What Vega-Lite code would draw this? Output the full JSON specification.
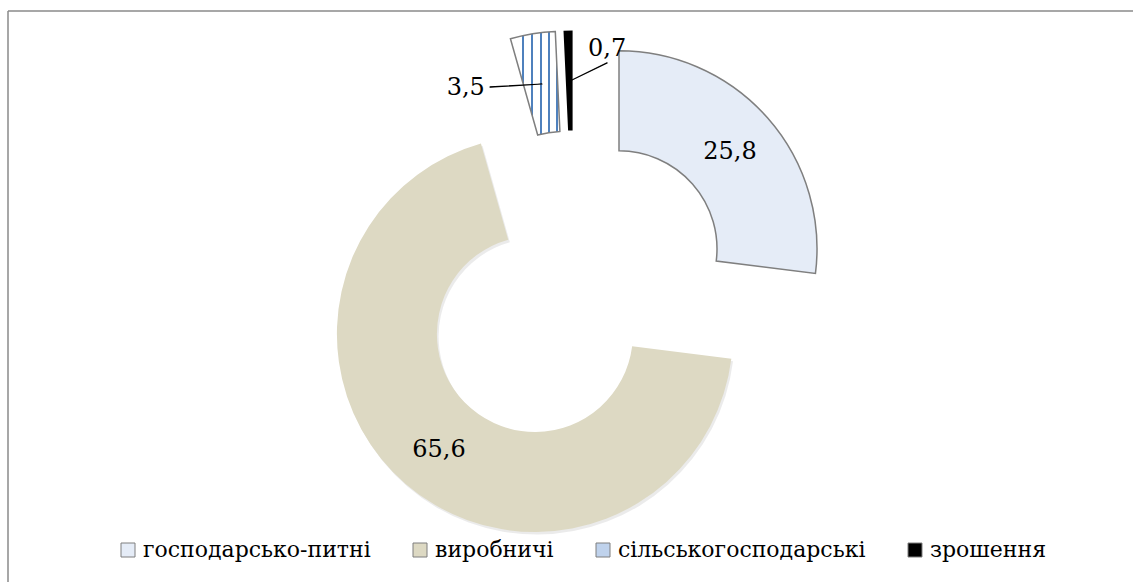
{
  "$schema": "https://vega.github.io/schema/vega-lite/v6.json",
  "width": 1125,
  "height": 571,
  "autosize": {"type": "none"},
  "padding": {"left": 8, "top": 11, "right": 0, "bottom": 0},
  "background": "white",
  "view": {"stroke": null},
  "config": {"view": {"stroke": null}, "style": {"cell": {"stroke": null}}, "font": "DejaVu Serif"},
  "data": {"values": [
    {"category": "господарсько-питні", "value": 25.8, "label": "25,8", "order": 1},
    {"category": "виробничі", "value": 65.6, "label": "65,6", "order": 2},
    {"category": "сільськогосподарські", "value": 3.5, "label": "3,5", "order": 3},
    {"category": "зрошення", "value": 0.7, "label": "0,7", "order": 4}
  ]},
  "transform": [
    {"stack": "value", "groupby": [], "sort": [{"field": "order", "order": "ascending"}], "as": ["v0", "v1"]},
    {"calculate": "(datum.v0 + datum.v1) / 2", "as": "vm"}
  ],
  "layer": [
    {
      "transform": [{"filter": "datum.order === 1"}],
      "mark": {"type": "rule", "stroke": "#8a8a8a", "strokeWidth": 1.5},
      "encoding": {"y": {"value": 0}}
    },
    {
      "transform": [{"filter": "datum.order === 1"}],
      "mark": {"type": "rule", "stroke": "#8a8a8a", "strokeWidth": 1.5},
      "encoding": {"x": {"value": 0}}
    },
    {
      "transform": [{"filter": "datum.category === 'виробничі'"}],
      "mark": {"type": "arc", "innerRadius": 98, "outerRadius": 198, "xOffset": -33.9, "yOffset": 40.1, "fill": "#000000", "fillOpacity": 0.08},
      "encoding": {
        "theta": {"field": "v0", "type": "quantitative", "stack": null, "scale": {"domain": [0, 95.6], "zero": true, "nice": false}},
        "theta2": {"field": "v1"}
      }
    },
    {
      "transform": [{"filter": "datum.category === 'виробничі'"}],
      "mark": {"type": "arc", "innerRadius": 98, "outerRadius": 198, "xOffset": -35.6, "yOffset": 37.5},
      "encoding": {
        "theta": {"field": "v0", "type": "quantitative", "stack": null},
        "theta2": {"field": "v1"},
        "color": {
          "field": "category", "type": "nominal",
          "scale": {
            "domain": ["господарсько-питні", "виробничі", "сільськогосподарські", "зрошення"],
            "range": ["#e5ecf7", "#ddd9c3", "#bfd2ec", "#000000"]
          },
          "legend": {
            "orient": "none", "legendX": 109, "legendY": 528, "direction": "horizontal",
            "title": null, "symbolType": "square", "symbolSize": 196, "symbolOpacity": 1,
            "symbolStrokeColor": "#7f7f7f", "symbolStrokeWidth": 1,
            "labelFont": "DejaVu Serif", "labelFontSize": 22, "labelColor": "#000000",
            "labelLimit": 600, "labelOffset": 4, "columnPadding": 38, "padding": 0
          }
        }
      }
    },
    {
      "transform": [{"filter": "datum.category === 'господарсько-питні'"}],
      "mark": {"type": "arc", "innerRadius": 98, "outerRadius": 198, "xOffset": 48.5, "yOffset": -47.7, "stroke": "#7f7f7f", "strokeWidth": 1.5},
      "encoding": {
        "theta": {"field": "v0", "type": "quantitative", "stack": null},
        "theta2": {"field": "v1"},
        "color": {"field": "category", "type": "nominal"}
      }
    },
    {
      "transform": [{"filter": "datum.category === 'сільськогосподарські'"}],
      "mark": {
        "type": "arc", "innerRadius": 98, "outerRadius": 198, "xOffset": -6.1, "yOffset": -67.2,
        "stroke": "#7f7f7f", "strokeWidth": 1.5,
        "fill": {
          "gradient": "linear", "x1": 0, "y1": 0, "x2": 1, "y2": 0,
          "stops": [
            {"offset": 0, "color": "#ffffff"},
            {"offset": 0.226, "color": "#ffffff"},
            {"offset": 0.226, "color": "#4f81bd"},
            {"offset": 0.266, "color": "#4f81bd"},
            {"offset": 0.266, "color": "#ffffff"},
            {"offset": 0.408, "color": "#ffffff"},
            {"offset": 0.408, "color": "#4f81bd"},
            {"offset": 0.448, "color": "#4f81bd"},
            {"offset": 0.448, "color": "#ffffff"},
            {"offset": 0.59, "color": "#ffffff"},
            {"offset": 0.59, "color": "#4f81bd"},
            {"offset": 0.63, "color": "#4f81bd"},
            {"offset": 0.63, "color": "#ffffff"},
            {"offset": 0.764, "color": "#ffffff"},
            {"offset": 0.764, "color": "#4f81bd"},
            {"offset": 0.804, "color": "#4f81bd"},
            {"offset": 0.804, "color": "#ffffff"},
            {"offset": 0.925, "color": "#ffffff"},
            {"offset": 0.925, "color": "#4f81bd"},
            {"offset": 0.965, "color": "#4f81bd"},
            {"offset": 0.965, "color": "#ffffff"},
            {"offset": 1, "color": "#ffffff"}
          ]
        }
      },
      "encoding": {
        "theta": {"field": "v0", "type": "quantitative", "stack": null},
        "theta2": {"field": "v1"}
      }
    },
    {
      "transform": [{"filter": "datum.category === 'зрошення'"}],
      "mark": {"type": "arc", "innerRadius": 98, "outerRadius": 198, "xOffset": 2.1, "yOffset": -68},
      "encoding": {
        "theta": {"field": "v0", "type": "quantitative", "stack": null},
        "theta2": {"field": "v1"},
        "color": {"field": "category", "type": "nominal"}
      }
    },
    {
      "transform": [{"filter": "datum.category === 'сільськогосподарські'"}],
      "mark": {"type": "arc", "innerRadius": 0, "outerRadius": 52, "theta": 4.652, "theta2": 4.658, "xOffset": -28.5, "yOffset": -212.5, "fill": "#000000", "stroke": "#000000", "strokeWidth": 1.2, "strokeJoin": "round"},
      "encoding": {}
    },
    {
      "transform": [{"filter": "datum.category === 'зрошення'"}],
      "mark": {"type": "arc", "innerRadius": 0, "outerRadius": 39, "theta": 1.116, "theta2": 1.122, "xOffset": 1.5, "yOffset": -216.5, "fill": "#000000", "stroke": "#000000", "strokeWidth": 1.2, "strokeJoin": "round"},
      "encoding": {}
    },
    {
      "transform": [{"filter": "datum.category === 'господарсько-питні'"}],
      "mark": {"type": "text", "radius": 148, "dx": 48.5, "dy": -46.6, "font": "DejaVu Serif", "fontSize": 24, "color": "#000000", "align": "center", "baseline": "middle"},
      "encoding": {"theta": {"field": "vm", "type": "quantitative", "stack": null}, "text": {"field": "label"}}
    },
    {
      "transform": [{"filter": "datum.category === 'виробничі'"}],
      "mark": {"type": "text", "radius": 148, "dx": -35, "dy": 40.8, "font": "DejaVu Serif", "fontSize": 24, "color": "#000000", "align": "center", "baseline": "middle"},
      "encoding": {"theta": {"field": "vm", "type": "quantitative", "stack": null}, "text": {"field": "label"}}
    },
    {
      "transform": [{"filter": "datum.category === 'сільськогосподарські'"}],
      "mark": {"type": "text", "radius": 148, "dx": -81, "dy": -62.4, "font": "DejaVu Serif", "fontSize": 24, "color": "#000000", "align": "center", "baseline": "middle"},
      "encoding": {"theta": {"field": "vm", "type": "quantitative", "stack": null}, "text": {"field": "label"}}
    },
    {
      "transform": [{"filter": "datum.category === 'зрошення'"}],
      "mark": {"type": "text", "radius": 148, "dx": 40, "dy": -99.5, "font": "DejaVu Serif", "fontSize": 24, "color": "#000000", "align": "center", "baseline": "middle"},
      "encoding": {"theta": {"field": "vm", "type": "quantitative", "stack": null}, "text": {"field": "label"}}
    }
  ]
}
